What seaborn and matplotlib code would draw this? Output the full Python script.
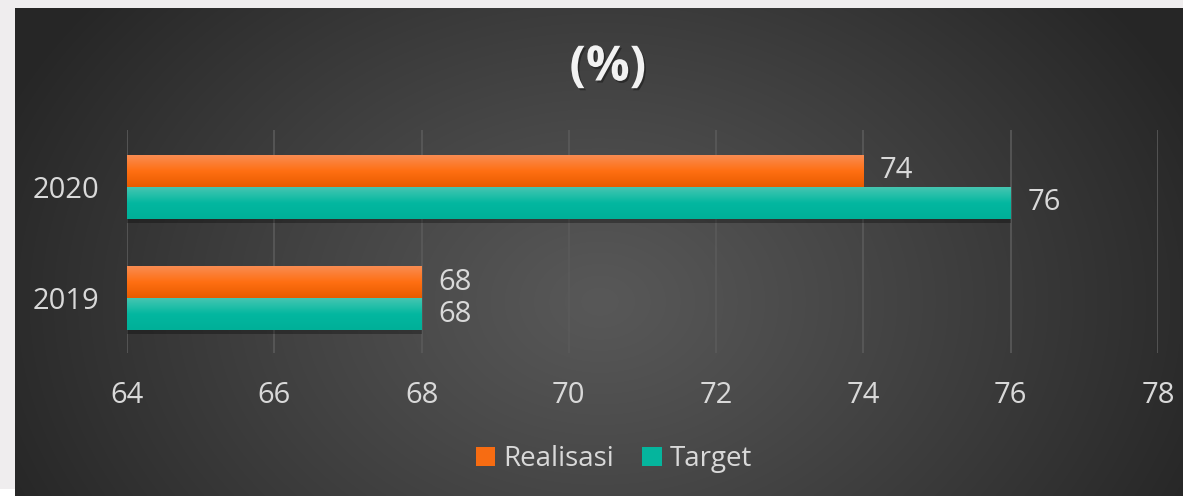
import numpy as np
import pandas as pd
import matplotlib
matplotlib.use("Agg")
import matplotlib.pyplot as plt
import matplotlib.patheffects as pe
from matplotlib.patches import Rectangle, Patch
from matplotlib.colors import to_rgb
import seaborn as sns

# ---- data ----
years = ["2020", "2019"]
realisasi = [74, 68]
target = [76, 68]
series_names = ["Realisasi", "Target"]
x_ticks = [64, 66, 68, 70, 72, 74, 76, 78]
title_text = "(%)"

df = pd.DataFrame({
    "Tahun": years * 2,
    "Nilai": realisasi + target,
    "Seri": [series_names[0]] * len(years) + [series_names[1]] * len(years),
})

sns.set_theme(style="white")
plt.rcParams["font.family"] = ["Open Sans", "DejaVu Sans"]

W, H, DPI = 1183, 496, 100
XMIN, XMAX = 64, 78
fig = plt.figure(figsize=(W / DPI, H / DPI), dpi=DPI)
fig.patch.set_facecolor("#EFEDEE")
fig.patches.append(Rectangle((0, 0), 15 / W, 7 / H, transform=fig.transFigure,
                             facecolor="white", edgecolor="none", zorder=0))

# radial background panel
bg = fig.add_axes([15 / W, 0, 1 - 15 / W, (H - 8) / H])
bg.set_zorder(-1)
ny, nx = 244, 584
yy, xx = np.mgrid[0:ny, 0:nx]
cx, cy = nx * 0.50, ny * 0.60
d = np.sqrt(((xx - cx) / (nx * 0.56)) ** 2 + ((yy - cy) / (ny * 1.0)) ** 2)
d = np.clip(d, 0, 1) ** 1.1
c0 = np.array(to_rgb("#585858"))
c1 = np.array(to_rgb("#262626"))
img = c0[None, None, :] * (1 - d[..., None]) + c1[None, None, :] * d[..., None]
bg.imshow(img, aspect="auto", extent=(0, 1, 0, 1), interpolation="bilinear")
bg.axis("off")

ax = fig.add_axes([127 / W, 1 - 353 / H, (1158 - 127) / W, (353 - 130) / H])
ax.set_facecolor("none")

palette = {series_names[0]: "#F76C12", series_names[1]: "#05B59D"}
sns.barplot(data=df, y="Tahun", x="Nilai", hue="Seri", order=years,
            hue_order=series_names, palette=palette, orient="h",
            width=0.57, saturation=1, ax=ax, legend=False, zorder=3,
            linewidth=0)

# gradients + shadows on bars
grad_cols = {
    series_names[0]: ("#F98C52", "#FF6F12", "#E85B00"),
    series_names[1]: ("#45C6B1", "#03B7A0", "#00B098"),
}
for container, name in zip(ax.containers, series_names):
    top, mid, bot = [np.array(to_rgb(c)) for c in grad_cols[name]]
    t = np.linspace(0, 1, 64)[:, None]
    col = np.where(t < 0.5, top * (1 - 2 * t) + mid * (2 * t),
                   mid * (2 - 2 * t) + bot * (2 * t - 1))
    gimg = np.repeat(col[:, None, :], 2, axis=1)
    for patch in container:
        patch.set_path_effects([pe.SimplePatchShadow(offset=(0.5, -3), alpha=0.3,
                                                     shadow_rgbFace="black"),
                                pe.Normal()])
        x0, y0 = patch.get_x(), patch.get_y()
        w, h = patch.get_width(), patch.get_height()
        xa = max(x0, XMIN)
        ax.imshow(gimg, extent=(xa, x0 + w, y0 + h, y0), aspect="auto",
                  zorder=4, interpolation="bilinear")
    ax.bar_label(container, labels=[f"{v:g}" for v in container.datavalues],
                 padding=12, fontsize=21, color="#D9D9D9", zorder=5)

ax.set_aspect("auto")
ax.set_xlim(XMIN, XMAX)
ax.set_ylim(1.49, -0.51)
ax.set_xticks(x_ticks)
ax.set_xticklabels([str(t) for t in x_ticks])
ax.set_yticks(range(len(years)))
ax.set_yticklabels(years)
ax.set_xlabel("")
ax.set_ylabel("")
for s in ax.spines.values():
    s.set_visible(False)
ax.grid(axis="x", color="#5a5a5a", linewidth=1.2, zorder=0)
ax.grid(axis="y", visible=False)
ax.tick_params(axis="both", length=0, labelsize=21, labelcolor="#D9D9D9")
ax.tick_params(axis="x", pad=20)
ax.tick_params(axis="y", pad=20)

fig.text(608 / W, 1 - 68 / H, title_text, ha="center", va="center",
         fontsize=35, fontweight="bold", color="#F2F2F2",
         path_effects=[pe.withSimplePatchShadow(offset=(1.2, -1.5), alpha=0.35,
                                                shadow_rgbFace="black")])

handles = [Patch(facecolor=palette[n], edgecolor="none", label=n) for n in series_names]
fig.legend(handles=handles, loc="center", bbox_to_anchor=(614 / W, 1 - 459 / H),
           ncol=2, frameon=False, fontsize=20, labelcolor="#D9D9D9",
           handlelength=0.7, handleheight=0.7, handletextpad=0.3,
           columnspacing=1.0)

fig.savefig("out.png", dpi=DPI, facecolor=fig.get_facecolor())
